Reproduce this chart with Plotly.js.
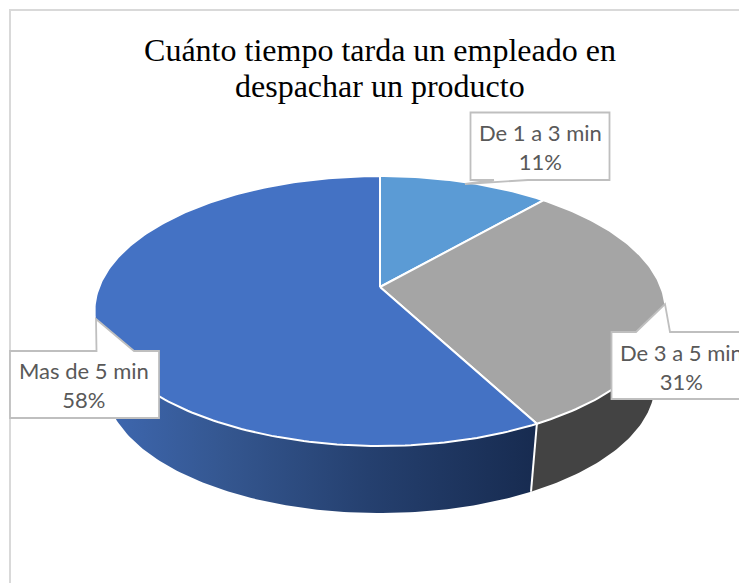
<!DOCTYPE html>
<html>
<head>
<meta charset="utf-8">
<script src="https://cdn.plot.ly/plotly-3.0.1.min.js"></script>
<style>html,body{margin:0;padding:0;background:#fff;overflow:hidden}#chart{width:739px;height:583px}</style>
</head>
<body>
<div id="chart"></div>
<script>
// Data (labels are the rounded values)
var categories = ["De 1 a 3 min", "De 3 a 5 min", "Mas de 5 min"];
var values = [11.45, 30.75, 57.8];
var topColors = ["#5b9bd5", "#a5a5a5", "#4472c4"];
var titleLines = ["Cuánto tiempo tarda un empleado en", "despachar un producto"];

// Perspective projection of the pie disc (top face and bottom face)
var persp = 0.1777;
var topFace = {cx: 380, y0: 287, a: 281, b: 130.7};
var botFace = {cx: 380, y0: 360, a: 270.5, b: 125.9};
function project(face, theta) {
  var u = Math.sin(theta), v = Math.cos(theta), d = 1 + persp * v;
  return [face.cx + face.a * u / d, face.y0 - face.b * v / d];
}
function arc(face, t0, t1) {
  var pts = [], n = Math.max(2, Math.ceil(Math.abs(t1 - t0) * 60));
  for (var i = 0; i <= n; i++) pts.push(project(face, t0 + (t1 - t0) * i / n));
  return pts;
}
function xs(p) { return p.map(function (q) { return q[0]; }); }
function ys(p) { return p.map(function (q) { return q[1]; }); }

var total = values.reduce(function (s, v) { return s + v; }, 0);
var spans = [], acc = 0;
values.forEach(function (v) {
  var a = acc / total * 2 * Math.PI; acc += v;
  spans.push([a, acc / total * 2 * Math.PI]);
});

var traces = [];
// Side walls
var wallFill = [
  null,
  {fillcolor: "#434343"},
  {fillcolor: "#2f5597", fillgradient: {type: "horizontal", colorscale: [[0, "#3f69b3"], [0.3, "#34568f"], [0.62, "#25406f"], [1, "#172b50"]]}}
];
[1, 2].forEach(function (i) {
  var poly = arc(topFace, spans[i][0], spans[i][1]).concat(arc(botFace, spans[i][1], spans[i][0]));
  var t = {type: "scatter", mode: "lines", x: xs(poly), y: ys(poly), fill: "toself", line: {width: 0}, hoverinfo: "skip", showlegend: false};
  for (var k in wallFill[i]) t[k] = wallFill[i][k];
  traces.push(t);
});
// White separator on the wall between grey and blue
var sepAngle = spans[1][1];
var sepA = project(topFace, sepAngle), sepB = project(botFace, sepAngle);
traces.push({type: "scatter", mode: "lines", x: [sepA[0], sepB[0]], y: [sepA[1], sepB[1]], line: {color: "#ffffff", width: 2}, hoverinfo: "skip", showlegend: false});
// Top face slices
values.forEach(function (v, i) {
  var apex = [topFace.cx, topFace.y0];
  var poly = [apex].concat(arc(topFace, spans[i][0], spans[i][1])).concat([apex]);
  traces.push({type: "scatter", mode: "lines", name: categories[i], x: xs(poly), y: ys(poly), fill: "toself", fillcolor: topColors[i], line: {color: "#ffffff", width: 2}, hoverinfo: "name", showlegend: false});
});

// Callout boxes and frame
var boxStyle = {color: "#bfbfbf", width: 1.8};
var shapes = [
  {type: "path", xref: "x", yref: "y", layer: "below", path: "M10,583 L10,10 L739,10", line: {color: "#d9d9d9", width: 2}},
  {type: "path", xref: "x", yref: "y", layer: "above", fillcolor: "#ffffff", line: boxStyle,
   path: "M470.5,112.5 L609.5,112.5 L609.5,180 L528,180 L465,184 L494,180 L470.5,180 Z"},
  {type: "path", xref: "x", yref: "y", layer: "above", fillcolor: "#ffffff", line: boxStyle,
   path: "M10,351 L96.5,351 L96,319 L134,351 L159,351 L159,418 L10,418 Z"},
  {type: "path", xref: "x", yref: "y", layer: "above", fillcolor: "#ffffff", line: boxStyle,
   path: "M745,332 L670,332 L665,304 L636,332 L611.5,332 L611.5,399 L745,399"}
];

function label(i, x, y) {
  return {xref: "x", yref: "y", x: x, y: y, xanchor: "center", yanchor: "middle", showarrow: false,
    text: categories[i] + "<br>" + Math.round(values[i]) + "%", align: "center",
    font: {family: "Lato, 'Open Sans', sans-serif", size: 22, color: "#595959"}};
}
var titleFont = {family: "'Liberation Serif', serif", size: 32, color: "#000000"};

var layout = {
  width: 739, height: 583,
  margin: {l: 0, r: 0, t: 0, b: 0},
  paper_bgcolor: "#ffffff", plot_bgcolor: "#ffffff",
  title: {text: titleLines[0], x: 380 / 739, xanchor: "center", y: 1 - 50 / 583, yanchor: "middle", font: titleFont},
  xaxis: {range: [0, 739], visible: false, fixedrange: true},
  yaxis: {range: [583, 0], visible: false, fixedrange: true},
  shapes: shapes,
  annotations: [
    {xref: "x", yref: "y", x: 380, y: 86, xanchor: "center", yanchor: "middle", showarrow: false, text: titleLines[1], font: titleFont},
    label(0, 540, 147), label(1, 681, 366.5), label(2, 84, 384.5)
  ],
  showlegend: false
};
Plotly.newPlot("chart", traces, layout, {displayModeBar: false, staticPlot: true});
</script>
</body>
</html>
